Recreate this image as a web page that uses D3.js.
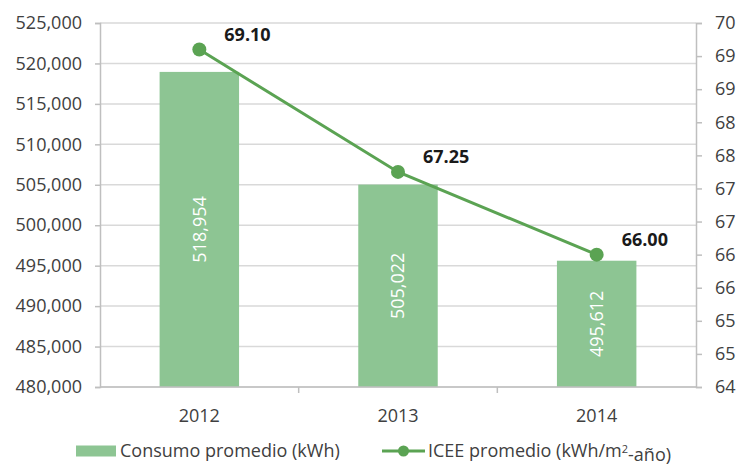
<!DOCTYPE html>
<html>
<head>
<meta charset="utf-8">
<script src="https://cdn.jsdelivr.net/npm/d3@7"></script>
<style>
  html, body { margin: 0; padding: 0; background: #fff; }
  svg text { font-family: "Open Sans", sans-serif; }
</style>
</head>
<body>
<div id="chart"></div>
<script>
// Consumo promedio vs ICEE promedio, 2012-2014
const years = ["2012", "2013", "2014"];
const consumo = [518954, 505022, 495612];
const icee = [69.10, 67.25, 66.00];
const leftTicks = [480000, 485000, 490000, 495000, 500000, 505000, 510000, 515000, 520000, 525000];
const rightTicks = [64, 64.5, 65, 65.5, 66, 66.5, 67, 67.5, 68, 68.5, 69, 69.5];
const legendLabels = ["Consumo promedio (kWh)", "ICEE promedio (kWh/m", "2", "-año)"];

const width = 739, height = 466;
const margin = { top: 23, right: 43, bottom: 79, left: 100 };
const barColor = "#8dc593";
const lineColor = "#5ba353";
const gridColor = "#d9d9d9";
const axisColor = "#bfbfbf";
const textColor = "#404040";

const svg = d3.select("#chart").append("svg")
  .attr("width", width)
  .attr("height", height);

const x = d3.scaleBand()
  .domain(years)
  .range([margin.left, width - margin.right])
  .paddingInner(0.6)
  .paddingOuter(0.3);

const yL = d3.scaleLinear()
  .domain([480000, 525000])
  .range([height - margin.bottom, margin.top]);

const yR = d3.scaleLinear()
  .domain([64, 69.5])
  .range([height - margin.bottom, margin.top]);

// gridlines
svg.append("g")
  .selectAll("line")
  .data(leftTicks)
  .join("line")
  .attr("x1", margin.left)
  .attr("x2", width - margin.right)
  .attr("y1", d => yL(d))
  .attr("y2", d => yL(d))
  .attr("stroke", gridColor)
  .attr("stroke-width", 1.5);

// left axis
const gl = svg.append("g")
  .attr("transform", `translate(${margin.left},0)`)
  .call(d3.axisLeft(yL).tickValues(leftTicks).tickFormat(d3.format(",")).tickSize(5).tickPadding(13));
gl.select(".domain").attr("stroke", axisColor).attr("stroke-width", 1.5);
gl.selectAll(".tick line").attr("stroke", axisColor).attr("stroke-width", 1.5);
gl.selectAll("text").style("font-size", "18px").attr("fill", textColor);

// right axis
const gr = svg.append("g")
  .attr("transform", `translate(${width - margin.right},0)`)
  .call(d3.axisRight(yR).tickValues(rightTicks).tickFormat(d => String(Math.round(d))).tickSize(6).tickPadding(13));
gr.select(".domain").attr("stroke", axisColor).attr("stroke-width", 1.5);
gr.selectAll(".tick line").attr("stroke", axisColor).attr("stroke-width", 1.5);
gr.selectAll("text").style("font-size", "18px").attr("fill", textColor);

// bars
svg.append("g")
  .selectAll("rect")
  .data(years)
  .join("rect")
  .attr("x", d => x(d))
  .attr("y", (d, i) => yL(consumo[i]))
  .attr("width", x.bandwidth())
  .attr("height", (d, i) => yL.range()[0] - yL(consumo[i]))
  .attr("fill", barColor);

// bar value labels (rotated, white)
svg.append("g")
  .selectAll("text")
  .data(years)
  .join("text")
  .attr("transform", (d, i) => {
    const cx = x(d) + x.bandwidth() / 2;
    const cy = (yL(consumo[i]) + yL.range()[0]) / 2;
    return `translate(${cx},${cy}) rotate(-90)`;
  })
  .attr("text-anchor", "middle")
  .attr("dy", "0.35em")
  .style("font-size", "18px")
  .attr("fill", "#fff")
  .text((d, i) => d3.format(",")(consumo[i]));

// bottom axis
const step = x.step();
const xb = svg.append("g")
  .attr("transform", `translate(0,${height - margin.bottom})`);
xb.append("line")
  .attr("x1", margin.left)
  .attr("x2", width - margin.right)
  .attr("stroke", axisColor)
  .attr("stroke-width", 1.5);
xb.selectAll("line.tk")
  .data(years.slice(1))
  .join("line")
  .attr("class", "tk")
  .attr("x1", d => x(d) - (step - x.bandwidth()) / 2)
  .attr("x2", d => x(d) - (step - x.bandwidth()) / 2)
  .attr("y1", 0)
  .attr("y2", 6)
  .attr("stroke", axisColor)
  .attr("stroke-width", 1.5);
xb.selectAll("text")
  .data(years)
  .join("text")
  .attr("x", d => x(d) + x.bandwidth() / 2)
  .attr("y", 35)
  .attr("text-anchor", "middle")
  .style("font-size", "18px")
  .attr("fill", textColor)
  .text(d => d);

// line series
const line = d3.line()
  .x((d, i) => x(years[i]) + x.bandwidth() / 2)
  .y(d => yR(d));

svg.append("path")
  .datum(icee)
  .attr("d", line)
  .attr("fill", "none")
  .attr("stroke", lineColor)
  .attr("stroke-width", 3);

svg.append("g")
  .selectAll("circle")
  .data(icee)
  .join("circle")
  .attr("cx", (d, i) => x(years[i]) + x.bandwidth() / 2)
  .attr("cy", d => yR(d))
  .attr("r", 7)
  .attr("fill", lineColor);

svg.append("g")
  .selectAll("text")
  .data(icee)
  .join("text")
  .attr("x", (d, i) => x(years[i]) + x.bandwidth() / 2 + 25)
  .attr("y", d => yR(d) - 15)
  .attr("dy", "0.35em")
  .style("font-size", "18px")
  .style("font-weight", "bold")
  .attr("fill", "#1a1a1a")
  .text(d => d3.format(".2f")(d));

// legend
const lg = svg.append("g").attr("transform", "translate(0,451)");
lg.append("rect")
  .attr("x", 76).attr("y", -5.5)
  .attr("width", 40).attr("height", 11)
  .attr("fill", barColor);
lg.append("text")
  .attr("x", 120).attr("dy", "0.36em")
  .style("font-size", "18px").attr("fill", textColor)
  .text(legendLabels[0]);
lg.append("line")
  .attr("x1", 382).attr("x2", 425)
  .attr("stroke", lineColor).attr("stroke-width", 3);
lg.append("circle")
  .attr("cx", 403.5).attr("r", 5.5)
  .attr("fill", lineColor);
const lt = lg.append("text")
  .attr("x", 428).attr("dy", "0.36em")
  .style("font-size", "18px").attr("fill", textColor);
lt.append("tspan").text(legendLabels[1]);
lt.append("tspan").attr("dy", "-0.45em").style("font-size", "11px").text(legendLabels[2]);
lt.append("tspan").attr("dy", "0.45em").text(legendLabels[3]);
</script>
</body>
</html>
